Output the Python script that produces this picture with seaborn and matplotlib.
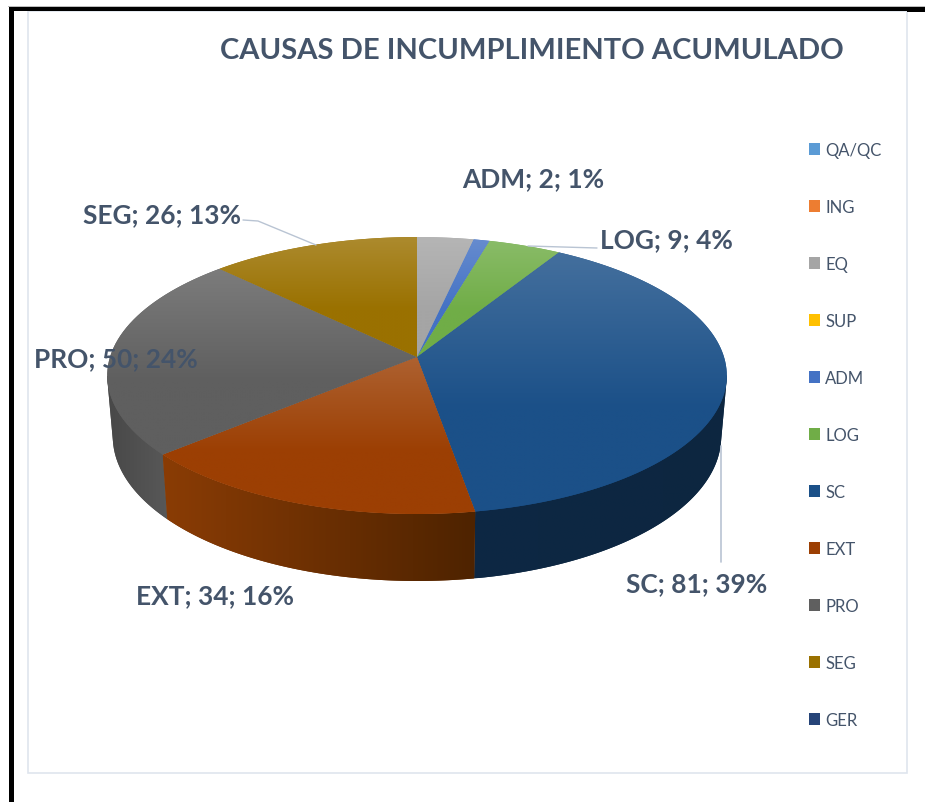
import numpy as np
import matplotlib
matplotlib.use("Agg")
import matplotlib.pyplot as plt
import matplotlib.transforms as mtransforms
from matplotlib.colors import to_rgb
from matplotlib.path import Path
from matplotlib.patches import Polygon, Rectangle
import seaborn as sns

categories = ["QA/QC", "ING", "EQ", "SUP", "ADM", "LOG", "SC", "EXT", "PRO", "SEG", "GER"]
values = [0, 0, 7, 0, 2, 9, 81, 34, 50, 26, 0]
slice_colors = ["#5b9bd5", "#ed7d31", "#a5a5a5", "#ffc000", "#4472c4", "#70ad47",
                "#1b5088", "#9c3f03", "#5f5f5f", "#9a7100", "#264478"]
label_texts = ["ADM; 2; 1%", "LOG; 9; 4%", "SC; 81; 39%", "EXT; 34; 16%", "PRO; 50; 24%", "SEG; 26; 13%"]
title_text = "CAUSAS DE INCUMPLIMIENTO ACUMULADO"

sns.set_theme(style="white")
plt.rcParams["font.family"] = ["Lato", "DejaVu Sans"]
INK = "#44546a"
LEADER = "#b9c4d3"

W, H = 925, 803
fig = plt.figure(figsize=(W / 100, H / 100), dpi=100, facecolor="white")
ax = fig.add_axes([0, 0, 1, 1])

CX, CY, SX, BY, K = 417.0, 358.0, 307.0, 136.0, 0.1336


def project(xy):
    xy = np.asarray(xy, dtype=float).reshape(-1, 2)
    u, v = xy[:, 0], xy[:, 1]
    d = 1 + K * v
    return np.column_stack([CX + SX * u / d, CY - BY * v / d])


def project_bottom(xy):
    xy = np.asarray(xy, dtype=float).reshape(-1, 2)
    p = project(xy)
    p[:, 0] = CX + (p[:, 0] - CX) * 0.982
    p[:, 1] = p[:, 1] + 60 - 7 * xy[:, 1]
    return p


def convex_hull(points):
    pts = sorted(map(tuple, points))

    def half(seq):
        out = []
        for p in seq:
            while len(out) > 1 and ((out[-1][0] - out[-2][0]) * (p[1] - out[-2][1])
                                    - (out[-1][1] - out[-2][1]) * (p[0] - out[-2][0])) <= 0:
                out.pop()
            out.append(p)
        return out[:-1]

    return np.array(half(pts) + half(pts[::-1]))


class Perspective(mtransforms.Transform):
    input_dims = 2
    output_dims = 2
    is_separable = False
    has_inverse = False

    def transform_non_affine(self, values):
        return project(values)

    def transform_path_non_affine(self, path):
        pts = []
        for seg, code in path.iter_bezier():
            if code == Path.MOVETO:
                pts.append(seg.control_points[0])
            elif code == Path.CURVE4 or code == Path.CURVE3:
                pts.extend(seg.point_at_t(np.linspace(0, 1, 25))[1:])
            else:
                pts.append(seg.control_points[-1])
        pts = project(np.array(pts))
        return Path(np.vstack([pts, pts[0]]), closed=True)


persp = Perspective()
palette = sns.color_palette(slice_colors)

wedges, _ = ax.pie(values, colors=palette, startangle=90, counterclock=False,
                   radius=1.0, center=(0, 0),
                   wedgeprops={"transform": persp + ax.transData, "linewidth": 0, "zorder": 3})
ax.set_aspect("auto")
ax.set_xlim(0, W)
ax.set_ylim(H, 0)
ax.axis("off")


def lighten(c, f):
    c = np.array(to_rgb(c))
    return c + (1 - c) * f


side_shades = {"SC": ("#0d2844", "#0d2640", 2.0), "EXT": ("#8a3c05", "#4e2300", 2.4),
               "PRO": ("#484848", "#585858", 2.0)}

for name, val, col, w in zip(categories, values, palette, wedges):
    if val == 0:
        continue
    theta = np.radians(np.linspace(w.theta1, w.theta2, 160))
    arc = np.column_stack([np.cos(theta), np.sin(theta)])
    top = project(arc)
    # top-face vertical gradient
    poly = np.vstack([top, project([[0, 0]])])
    x0, x1, y0, y1 = poly[:, 0].min(), poly[:, 0].max(), poly[:, 1].min(), poly[:, 1].max()
    t = np.clip(np.linspace(0, 1, 200) / 0.6, 0, 1)[:, None]
    grad = lighten(col, 0.18)[None, :] * (1 - t) + np.array(col)[None, :] * t
    im = ax.imshow(grad[:, None, :], extent=(x0, x1, y1, y0), origin="upper",
                   aspect="auto", zorder=3.5, interpolation="bilinear")
    im.set_clip_path(w)
    # side wall with horizontal gradient (front part only)
    if name in side_shades:
        bottom = project_bottom(arc)
        if name == "EXT":
            side = np.vstack([top, bottom[::-1]])
        else:
            front = np.vstack([top, bottom])
            side = convex_hull(front[front[:, 1] >= 376.5])
        sx0, sx1 = side[:, 0].min(), side[:, 0].max()
        sy0, sy1 = side[:, 1].min(), side[:, 1].max()
        left, right, z = side_shades[name]
        s = np.array(sns.blend_palette([left, right], 200))
        patch = Polygon(side, closed=True, facecolor=s[100], edgecolor="none", lw=0, zorder=z)
        ax.add_patch(patch)
        im2 = ax.imshow(s[None, :, :], extent=(sx0, sx1, sy1, sy0), origin="upper",
                        aspect="auto", zorder=z + 0.1, interpolation="bilinear")
        im2.set_clip_path(patch)

ax.set_xlim(0, W)
ax.set_ylim(H, 0)

# frame
ax.add_patch(Rectangle((28, 12), 878.5, 762, facecolor="none", edgecolor="#dfe5ee", lw=1.2, zorder=1))
ax.add_patch(Rectangle((8.4, 7.4), 916.6, 1.0, facecolor="#bdbdbd", edgecolor="none", zorder=6))
ax.add_patch(Rectangle((9, 8.3), 898, 4.0, facecolor="black", edgecolor="none", zorder=6))
ax.add_patch(Rectangle((907, 8.3), 18, 4.8, facecolor="black", edgecolor="none", zorder=6))
ax.add_patch(Rectangle((9, 8.3), 5.3, 795, facecolor="black", edgecolor="none", zorder=6))

# leaders
ax.plot([528, 597], [247, 249], color=LEADER, lw=1, zorder=5)
ax.plot([720.7, 720.7], [447, 563], color=LEADER, lw=1.2, zorder=5)
ax.plot([243, 258, 316], [221, 222, 246], color=LEADER, lw=1, zorder=5)

# title
ax.text(532, 51, title_text, fontsize=21, fontweight="bold", color=INK, ha="center", va="center", zorder=7)

label_pos = [(533, 179), (666.5, 240), (697, 584), (215, 596), (116, 359), (162, 215)]
for txt, (x, y) in zip(label_texts, label_pos):
    ax.text(x, y, txt, fontsize=18.9, fontweight="bold", color=INK, ha="center", va="center", zorder=7)

leg = ax.legend(wedges, categories, loc="upper left", bbox_to_anchor=(809 / W, 1 - 143 / H),
                bbox_transform=fig.transFigure, frameon=False, fontsize=12,
                labelspacing=2.46, handlelength=0.68, handleheight=0.68, handletextpad=0.3,
                borderpad=0, borderaxespad=0, labelcolor=INK)

fig.savefig("out.png", dpi=100, facecolor="white")
